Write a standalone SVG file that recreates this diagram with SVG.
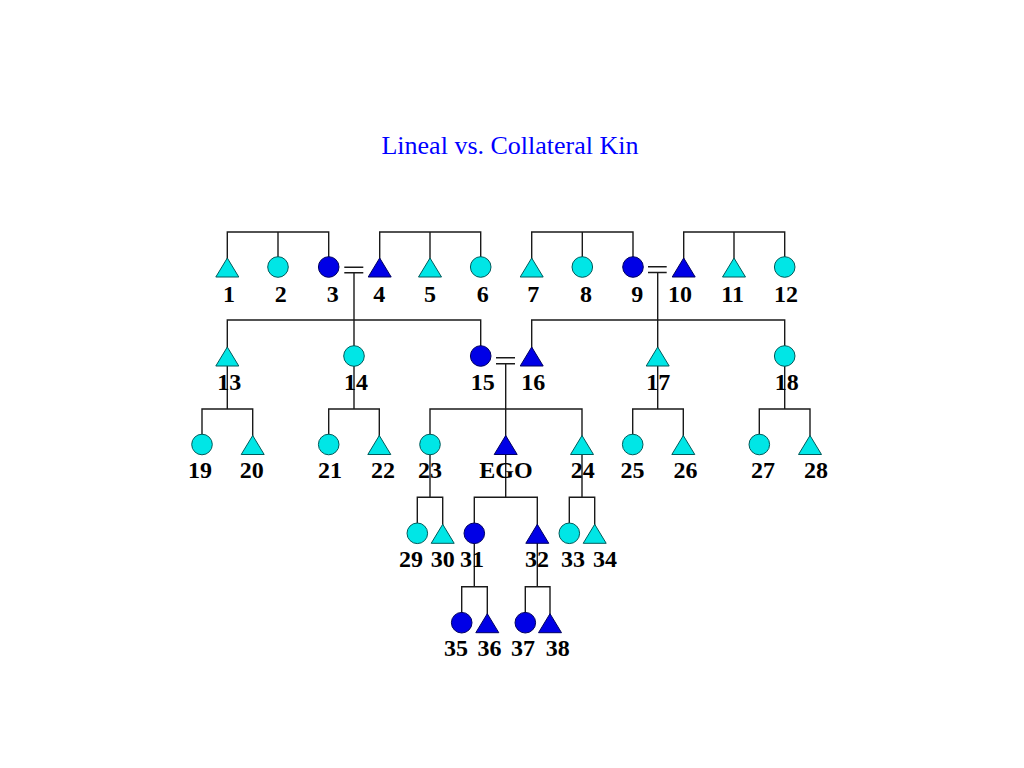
<svg xmlns="http://www.w3.org/2000/svg" width="1024" height="768" viewBox="0 0 1024 768">
<style>
.ln{fill:none;stroke:#1a1a1a;stroke-width:1.4}
.c{fill:#00e6e6;stroke:#005a5a;stroke-width:1}
.b{fill:#0000e6;stroke:#000060;stroke-width:1}
.lb{font-family:"Liberation Serif","Times New Roman",serif;font-weight:bold;font-size:24px;fill:#000;text-anchor:middle}
.title{font-family:"Liberation Serif","Times New Roman",serif;font-size:26px;fill:#0000ff;text-anchor:middle}
</style>
<rect width="1024" height="768" fill="#fff"/>
<text class="title" x="510" y="154">Lineal vs. Collateral Kin</text>
<g id="connectors">
<path class="ln" d="M227.3,267 V232 H328.7 V267 M278,232 V267"/>
<path class="ln" d="M379.7,267 V232 H480.7 V267 M430,232 V267"/>
<path class="ln" d="M531.7,267 V232 H633 V267 M582.3,232 V267"/>
<path class="ln" d="M683.7,267 V232 H784.7 V267 M734,232 V267"/>
<path class="ln" d="M344.3,267.3 H363.3 M344.3,272.7 H363.3 M354,272.7 V356"/>
<path class="ln" d="M227.3,356 V320 H480.7 V356"/>
<path class="ln" d="M648,266.8 H666.7 M648,272.5 H666.7 M657.7,272.5 V356"/>
<path class="ln" d="M531.7,356 V320 H784.7 V356"/>
<path class="ln" d="M496,357.7 H515 M496,363.7 H515 M505.7,363.7 V444.5"/>
<path class="ln" d="M430,444.5 V409 H582 V444.5"/>
<path class="ln" d="M227.3,356 V409 M202,444.5 V409 H252.7 V444.5"/>
<path class="ln" d="M354,356 V409 M328.7,444.5 V409 H379.3 V444.5"/>
<path class="ln" d="M657.7,356 V409 M632.7,444.5 V409 H683.3 V444.5"/>
<path class="ln" d="M784.7,356 V409 M759.3,444.5 V409 H810 V444.5"/>
<path class="ln" d="M430,444.5 V497.3 M417.3,533.3 V497.3 H442.7 V533.3"/>
<path class="ln" d="M505.7,444.5 V497.3 M474.3,533.3 V497.3 H537.3 V533.3"/>
<path class="ln" d="M582,444.5 V497.3 M569.3,533.3 V497.3 H594.7 V533.3"/>
<path class="ln" d="M474.3,533.3 V586.7 M461.7,622.7 V586.7 H487.3 V622.7"/>
<path class="ln" d="M537.3,533.3 V586.7 M525.3,622.7 V586.7 H550 V622.7"/>
</g>
<g id="n1"><polygon class="c" points="227.3,258 215.8,277 238.8,277"/><text class="lb" x="229" y="301.5">1</text></g>
<g id="n2"><circle class="c" cx="278" cy="267" r="10.3"/><text class="lb" x="280.7" y="301.5">2</text></g>
<g id="n3"><circle class="b" cx="328.7" cy="267" r="10.3"/><text class="lb" x="332.7" y="301.5">3</text></g>
<g id="n4"><polygon class="b" points="379.7,258 368.2,277 391.2,277"/><text class="lb" x="379.3" y="301.5">4</text></g>
<g id="n5"><polygon class="c" points="430,258 418.5,277 441.5,277"/><text class="lb" x="430" y="301.5">5</text></g>
<g id="n6"><circle class="c" cx="480.7" cy="267" r="10.3"/><text class="lb" x="482.7" y="301.5">6</text></g>
<g id="n7"><polygon class="c" points="531.7,258 520.2,277 543.2,277"/><text class="lb" x="533.3" y="301.5">7</text></g>
<g id="n8"><circle class="c" cx="582.3" cy="267" r="10.3"/><text class="lb" x="586" y="301.5">8</text></g>
<g id="n9"><circle class="b" cx="633" cy="267" r="10.3"/><text class="lb" x="637.3" y="301.5">9</text></g>
<g id="n10"><polygon class="b" points="683.7,258 672.2,277 695.2,277"/><text class="lb" x="680" y="301.5">10</text></g>
<g id="n11"><polygon class="c" points="734,258 722.5,277 745.5,277"/><text class="lb" x="732.7" y="301.5">11</text></g>
<g id="n12"><circle class="c" cx="784.7" cy="267" r="10.3"/><text class="lb" x="786" y="301.5">12</text></g>
<g id="n13"><polygon class="c" points="227.3,347 215.8,366 238.8,366"/><text class="lb" x="229.3" y="390">13</text></g>
<g id="n14"><circle class="c" cx="354" cy="356" r="10.3"/><text class="lb" x="356" y="390">14</text></g>
<g id="n15"><circle class="b" cx="480.7" cy="356" r="10.3"/><text class="lb" x="482.7" y="390">15</text></g>
<g id="n16"><polygon class="b" points="531.7,347 520.2,366 543.2,366"/><text class="lb" x="533.3" y="390">16</text></g>
<g id="n17"><polygon class="c" points="657.7,347 646.2,366 669.2,366"/><text class="lb" x="658.3" y="390">17</text></g>
<g id="n18"><circle class="c" cx="784.7" cy="356" r="10.3"/><text class="lb" x="786.7" y="390">18</text></g>
<g id="n19"><circle class="c" cx="202" cy="444.5" r="10.3"/><text class="lb" x="200" y="478">19</text></g>
<g id="n20"><polygon class="c" points="252.7,435.5 241.2,454.5 264.2,454.5"/><text class="lb" x="251.7" y="478">20</text></g>
<g id="n21"><circle class="c" cx="328.7" cy="444.5" r="10.3"/><text class="lb" x="330" y="478">21</text></g>
<g id="n22"><polygon class="c" points="379.3,435.5 367.8,454.5 390.8,454.5"/><text class="lb" x="383" y="478">22</text></g>
<g id="n23"><circle class="c" cx="430" cy="444.5" r="10.3"/><text class="lb" x="430" y="478">23</text></g>
<g id="ego"><polygon class="b" points="505.7,435.5 494.2,454.5 517.2,454.5"/><text class="lb" x="506" y="478">EGO</text></g>
<g id="n24"><polygon class="c" points="582,435.5 570.5,454.5 593.5,454.5"/><text class="lb" x="582.7" y="478">24</text></g>
<g id="n25"><circle class="c" cx="632.7" cy="444.5" r="10.3"/><text class="lb" x="632.5" y="478">25</text></g>
<g id="n26"><polygon class="c" points="683.3,435.5 671.8,454.5 694.8,454.5"/><text class="lb" x="685.5" y="478">26</text></g>
<g id="n27"><circle class="c" cx="759.3" cy="444.5" r="10.3"/><text class="lb" x="763" y="478">27</text></g>
<g id="n28"><polygon class="c" points="810,435.5 798.5,454.5 821.5,454.5"/><text class="lb" x="816" y="478">28</text></g>
<g id="n29"><circle class="c" cx="417.3" cy="533.3" r="10.3"/><text class="lb" x="411" y="567">29</text></g>
<g id="n30"><polygon class="c" points="442.7,524.3 431.2,543.3 454.2,543.3"/><text class="lb" x="442.7" y="567">30</text></g>
<g id="n31"><circle class="b" cx="474.3" cy="533.3" r="10.3"/><text class="lb" x="472" y="567">31</text></g>
<g id="n32"><polygon class="b" points="537.3,524.3 525.8,543.3 548.8,543.3"/><text class="lb" x="537" y="567">32</text></g>
<g id="n33"><circle class="c" cx="569.3" cy="533.3" r="10.3"/><text class="lb" x="573" y="567">33</text></g>
<g id="n34"><polygon class="c" points="594.7,524.3 583.2,543.3 606.2,543.3"/><text class="lb" x="605" y="567">34</text></g>
<g id="n35"><circle class="b" cx="461.7" cy="622.7" r="10.3"/><text class="lb" x="456" y="656">35</text></g>
<g id="n36"><polygon class="b" points="487.3,613.7 475.8,632.7 498.8,632.7"/><text class="lb" x="489.5" y="656">36</text></g>
<g id="n37"><circle class="b" cx="525.3" cy="622.7" r="10.3"/><text class="lb" x="523" y="656">37</text></g>
<g id="n38"><polygon class="b" points="550,613.7 538.5,632.7 561.5,632.7"/><text class="lb" x="557.7" y="656">38</text></g>
</svg>
